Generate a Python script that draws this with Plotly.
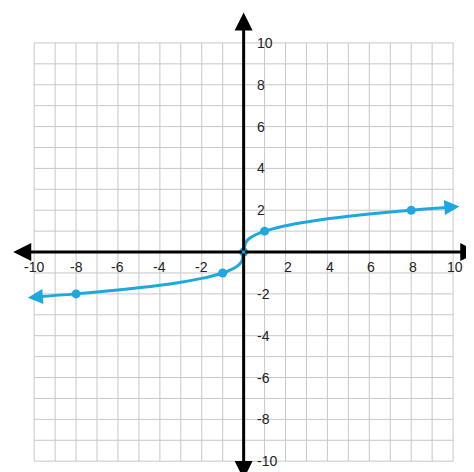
import plotly.graph_objects as go

curve_x = [-10, -8, -6, -4, -3, -2, -1.5, -1, -0.6, -0.3, -0.1, 0, 0.1, 0.3, 0.6, 1, 1.5, 2, 3, 4, 6, 8, 10]
curve_y = [-2.15, -2, -1.82, -1.59, -1.44, -1.26, -1.14, -1, -0.84, -0.67, -0.46, 0, 0.46, 0.67, 0.84, 1, 1.14, 1.26, 1.44, 1.59, 1.82, 2, 2.15]
point_x = [-8, -1, 0, 1, 8]
point_y = [-2, -1, 0, 1, 2]
ticks = [-10, -8, -6, -4, -2, 2, 4, 6, 8, 10]
blue = "#1fa8e0"

fig = go.Figure()
shapes = []
for v in range(-10, 11):
    shapes.append(dict(type="line", x0=v, x1=v, y0=-10, y1=10, line=dict(color="#c8c8c8", width=1), layer="below"))
    shapes.append(dict(type="line", x0=-10, x1=10, y0=v, y1=v, line=dict(color="#c8c8c8", width=1), layer="below"))
fig.add_trace(go.Scatter(x=curve_x, y=curve_y, mode="lines", line=dict(color=blue, width=3, shape="spline"), hoverinfo="skip"))
fig.add_trace(go.Scatter(x=point_x, y=point_y, mode="markers", marker=dict(color=blue, size=9)))

ann = []
for (x0, y0, x1, y1) in [(0, 0, -11.0, 0), (0, 0, 11.2, 0), (0, 0, 0, 11.45), (0, 0, 0, -10.85)]:
    ann.append(dict(x=x1, y=y1, ax=x0, ay=y0, xref="x", yref="y", axref="x", ayref="y",
                    showarrow=True, arrowhead=2, arrowsize=1.2, arrowwidth=3, arrowcolor="black", text=""))
ann.append(dict(x=-10.3, y=-2.18, ax=-9.5, ay=-2.12, xref="x", yref="y", axref="x", ayref="y",
                showarrow=True, arrowhead=2, arrowsize=1, arrowwidth=3, arrowcolor=blue, text=""))
ann.append(dict(x=10.3, y=2.18, ax=9.5, ay=2.12, xref="x", yref="y", axref="x", ayref="y",
                showarrow=True, arrowhead=2, arrowsize=1, arrowwidth=3, arrowcolor=blue, text=""))
font = dict(family="Liberation Sans, Arial", size=14, color="#222")
for t in ticks:
    ann.append(dict(x=t + (0.1 if t > 0 else 0), y=-0.25, text=str(t), showarrow=False, xanchor="center", yanchor="top", font=font))
    ann.append(dict(x=0.55, y=t, text=str(t), showarrow=False, xanchor="left", yanchor="middle", font=font))

fig.update_layout(
    width=474, height=472, margin=dict(l=0, r=0, t=0, b=0),
    plot_bgcolor="white", paper_bgcolor="white", showlegend=False,
    xaxis=dict(range=[-11.25, 11.38], visible=False, fixedrange=True),
    yaxis=dict(range=[-10.9, 11.67], visible=False, fixedrange=True),
    shapes=shapes, annotations=ann,
)
fig.write_html("out.html")
